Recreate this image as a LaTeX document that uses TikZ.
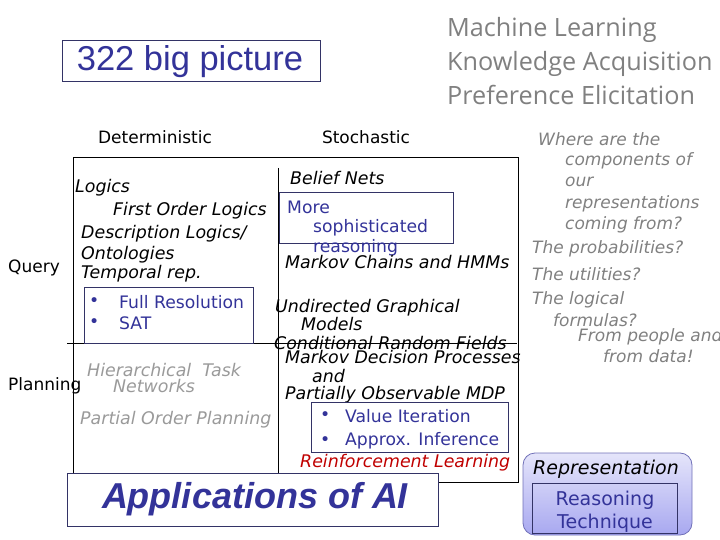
\documentclass[tikz,border=0pt]{standalone}
\usepackage{fontspec}
\setmainfont{DejaVu Sans}
\newfontfamily\arialfont{Liberation Sans}
\newfontfamily\mlfont{Open Sans}
\definecolor{myblue}{HTML}{333399}
\definecolor{navy}{HTML}{333366}
\definecolor{greytxt}{HTML}{808080}
\definecolor{lightgrey}{HTML}{9A9A9A}
\definecolor{myred}{HTML}{C00000}
\definecolor{legfill}{HTML}{A8A8F0}
\tikzset{
  txt/.style={inner sep=0pt, anchor=west, font=\fontsize{17}{20}\selectfont},
  it/.style={txt, font=\itshape\fontsize{17.4}{20}\selectfont},
  grit/.style={it, text=lightgrey},
  qit/.style={it, font=\itshape\fontsize{17}{20}\selectfont, text=greytxt},
  bl/.style={txt, text=myblue, font=\fontsize{17.2}{20}\selectfont},
  hdr/.style={inner sep=0pt, font=\fontsize{17}{20}\selectfont},
  ml/.style={inner sep=0pt, anchor=west, text=greytxt, font=\mlfont\fontsize{25.2}{28}\selectfont},
  framebox/.style={draw=navy, line width=0.8pt},
}
\begin{document}
\begin{tikzpicture}[x=1pt,y=-1pt]
\useasboundingbox (0,0) rectangle (720,540);
\clip (0,0) rectangle (720,540);
% title
\draw[framebox] (62,40) rectangle (320,81);
\node[inner sep=0pt, text=myblue, font=\arialfont\fontsize{34.5}{38}\selectfont] (title) at (190,62) {322 big picture};
% ML text
\node[ml] (ml1) at (447,30) {Machine Learning};
\node[ml] (ml2) at (447,64) {Knowledge Acquisition};
\node[ml] (ml3) at (447,95) {Preference Elicitation};
% headers
\node[hdr] (det) at (155,137) {Deterministic};
\node[hdr] (sto) at (366,137) {Stochastic};
\node[txt] (query) at (8,268) {Query};
\node[txt] (plan) at (8,386) {Planning};
% main box and lines
\draw[black, line width=0.8pt] (73,157) rectangle (518,482);
\draw[black, line width=0.8pt] (278,168) -- (278,473);
\draw[black, line width=0.8pt] (67,343) -- (517,343);
% applications box
\draw[framebox, fill=white] (67,473) rectangle (438,526);
\node[inner sep=0pt, text=myblue, font=\arialfont\bfseries\itshape\fontsize{36}{40}\selectfont] (apps) at (255,499) {Applications of AI};
% deterministic column
\node[it] (logics) at (75,188) {Logics};
\node[it] (fol) at (113,211) {First Order Logics};
\node[it] (dl) at (81,234) {Description Logics/};
\node[it] (onto) at (81,255) {Ontologies};
\node[it] (temp) at (81,274) {Temporal rep.};
\draw[framebox] (84,287) rectangle (253,343);
\node[bl] (b1) at (89,302) {•};
\node[bl] (fr) at (119,302) {Full Resolution};
\node[bl] (b2) at (89,323) {•};
\node[bl] (sat) at (119,323) {SAT};
\node[grit] (htn1) at (87,370) {Hierarchical\ \ Task};
\node[grit] (htn2) at (113,386) {Networks};
\node[grit] (pop) at (80,420) {Partial Order Planning};
% stochastic column
\node[it] (bn) at (290,178) {Belief Nets};
\draw[framebox] (279,192) rectangle (453,243);
\node[bl] (more1) at (287,207) {More};
\node[bl] (more2) at (313,228) {sophisticated};
\node[bl] (more3) at (313,248) {reasoning};
\node[it] (mc) at (285,262) {Markov Chains and HMMs};
\node[it] (ug1) at (275,308) {Undirected Graphical};
\node[it] (ug2) at (301,324) {Models};
\node[it] (crf) at (274,343) {Conditional Random Fields};
\node[it] (mdp1) at (285,357) {Markov Decision Processes};
\node[it] (mdp2) at (312,376) {and};
\node[it] (mdp3) at (285,395) {Partially Observable MDP};
\draw[framebox] (311,402) rectangle (508,452);
\node[bl] (b3) at (320,416) {•};
\node[bl] (vi) at (345,416) {Value Iteration};
\node[bl] (b4) at (320,441) {•};
\node[bl] (ai) at (345,441) {Approx. Inference};
\node[it, text=myred] (rl) at (300,463) {Reinforcement Learning};
% right questions
\node[qit] (q1) at (538,139) {Where are the};
\node[qit] (q2) at (565,161) {components of};
\node[qit] (q3) at (565,182) {our};
\node[qit] (q4) at (565,204) {representations};
\node[qit] (q5) at (565,225) {coming from?};
\node[qit] (q6) at (532,249) {The probabilities?};
\node[qit] (q7) at (532,274) {The utilities?};
\node[qit] (q8) at (532,300) {The logical};
\node[qit] (q9) at (553,320) {formulas?};
\node[qit] (q10) at (578,337) {From people and};
\node[qit] (q11) at (603,356) {from data!};
% legend
\draw[draw=myblue!70, rounded corners=12pt, top color=legfill!30, bottom color=legfill, line width=0.8pt] (523,453) rectangle (692,535);
\draw[framebox] (532,483) rectangle (677,533);
\node[inner sep=0pt, font=\itshape\fontsize{19}{22}\selectfont] (rep) at (606,469) {Representation};
\node[inner sep=0pt, text=myblue, font=\fontsize{19}{22}\selectfont] (rt1) at (605,500) {Reasoning};
\node[inner sep=0pt, text=myblue, font=\fontsize{19}{22}\selectfont] (rt2) at (605,523) {Technique};
\end{tikzpicture}
\end{document}
